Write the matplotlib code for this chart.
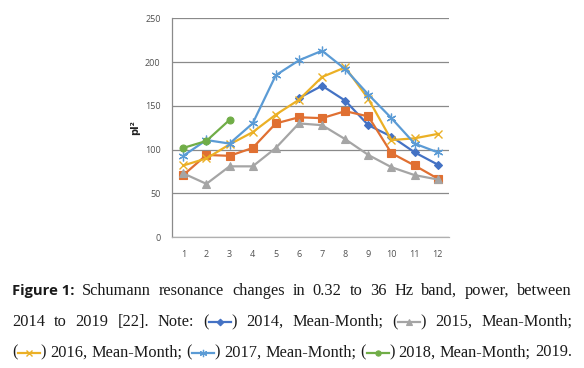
import numpy as np
import matplotlib
matplotlib.use("Agg")
import matplotlib.pyplot as plt
from matplotlib.transforms import IdentityTransform
from matplotlib.lines import Line2D

nan = np.nan
months = list(range(1, 13))
s2014 = [nan, nan, nan, nan, nan, 159, 173, 156, 128, 115, 97, 83]
s2019 = [71, 94, 93, 102, 130, 137, 136, 144, 138, 96, 82, 67]
s2015 = [73, 61, 81, 81, 102, 130, 128, 112, 94, 80, 71, 66]
s2016 = [82, 90, 106, 120, 140, 157, 183, 194, 158, 111, 113, 118]
s2017 = [93, 111, 107, 130, 185, 202, 213, 192, 163, 136, 107, 97]
s2018 = [102, 110, 134, nan, nan, nan, nan, nan, nan, nan, nan, nan]
yticks = [0, 50, 100, 150, 200, 250]

W, H = 584, 368
fig = plt.figure(figsize=(W / 100, H / 100), dpi=100)
L, R, T, B = 171.7, 449.3, 18.3, 237.3
ax = fig.add_axes([L / W, 1 - B / H, (R - L) / W, (B - T) / H])

styles = {
    "2014": dict(color="#4472C4", marker="D", ms=4.5, mew=0.8),
    "2019": dict(color="#E07032", marker="s", ms=5.5, mew=0.8),
    "2015": dict(color="#A5A5A5", marker="^", ms=5.5, mew=0.8),
    "2016": dict(color="#EBB025", marker="x", ms=6, mew=1.0),
    "2017": dict(color="#5B9BD5", marker=(6, 2, 0), ms=7, mew=0.9),
    "2018": dict(color="#70AD47", marker="o", ms=5, mew=0.8),
}
series = [("2014", s2014), ("2019", s2019), ("2015", s2015),
          ("2016", s2016), ("2017", s2017), ("2018", s2018)]
for i, (name, vals) in enumerate(series):
    st = styles[name]
    ax.plot(months, vals, color=st["color"], lw=1.6, marker=st["marker"],
            ms=st["ms"], mew=st["mew"], mfc=st["color"], mec=st["color"],
            zorder=3 + i)

ax.set_xlim(0.5, 12.5)
ax.set_ylim(0, 250)
ax.set_xticks(months)
ax.set_yticks(yticks)
ax.yaxis.grid(True, color="#8a8a8a", lw=0.9)
ax.set_axisbelow(True)
for s in ["top", "right"]:
    ax.spines[s].set_visible(False)
ax.spines["left"].set_color("#8a8a8a")
ax.spines["left"].set_linewidth(0.9)
ax.spines["bottom"].set_color("#b0b0b0")
ax.spines["bottom"].set_linewidth(0.9)
ax.tick_params(length=0, labelsize=6.5, labelcolor="#505050")
for lab in ax.get_xticklabels() + ax.get_yticklabels():
    lab.set_fontfamily("Open Sans")
ax.tick_params(axis="y", pad=8)
ax.tick_params(axis="x", pad=9)
fig.text(135 / W, 1 - 128 / H, "pI²", rotation=90, ha="center", va="center",
         fontsize=7, fontweight="bold", family="DejaVu Sans", color="#222222")

# ---- caption with justified lines ----
serif = dict(family="Liberation Serif", fontsize=11.8, color="#1a1a1a")
bold = dict(family="Open Sans", fontsize=10.6, fontweight="bold", color="#1a1a1a")
sym_colors = {"2014": "#4472C4", "2015": "#A5A5A5", "2016": "#EBB025",
              "2017": "#5B9BD5", "2018": "#70AD47"}

lines = [
    [("t", "Figure 1:", bold)] + [("t", w, serif) for w in
        "Schumann resonance changes in 0.32 to 36 Hz band, power, between".split()],
    [("t", w, serif) for w in "2014 to 2019 [22]. Note:".split()]
    + [("s", "2014"), ("t", "2014,", serif), ("t", "Mean-Month;", serif),
       ("s", "2015"), ("t", "2015,", serif), ("t", "Mean-Month;", serif)],
    [("s", "2016"), ("t", "2016,", serif), ("t", "Mean-Month;", serif),
     ("s", "2017"), ("t", "2017,", serif), ("t", "Mean-Month;", serif),
     ("s", "2018"), ("t", "2018,", serif), ("t", "Mean-Month;", serif),
     ("t", "2019.", serif)],
]
baselines = [295, 326, 356.5]
X0, X1 = 12, 572
GAP = 23
renderer = fig.canvas.get_renderer()
ident = IdentityTransform()

for toks, yb in zip(lines, baselines):
    ypix = H - yb
    items = []
    for tok in toks:
        if tok[0] == "t":
            t = fig.text(0, ypix, tok[1], transform=ident, ha="left",
                         va="baseline", **tok[2])
            w = t.get_window_extent(renderer).width
            items.append(("t", t, w))
        else:
            t1 = fig.text(0, ypix, "(", transform=ident, ha="left",
                          va="baseline", **serif)
            t2 = fig.text(0, ypix, ")", transform=ident, ha="left",
                          va="baseline", **serif)
            w1 = t1.get_window_extent(renderer).width
            w2 = t2.get_window_extent(renderer).width
            items.append(("s", (t1, t2, tok[1], w1, w2), w1 + GAP + w2))
    total = sum(it[2] for it in items)
    gap = max((X1 - X0 - total) / (len(items) - 1), 2.5)
    x = X0
    for kind, obj, w in items:
        if kind == "t":
            obj.set_x(x)
        else:
            t1, t2, name, w1, w2 = obj
            t1.set_x(x)
            t2.set_x(x + w1 + GAP)
            ym = ypix + 4.0
            xa, xb = x + w1 + 0.5, x + w1 + GAP - 0.5
            st = styles[name]
            fig.add_artist(Line2D([xa, xb], [ym, ym], transform=ident,
                                  color=sym_colors[name], lw=1.6))
            fig.add_artist(Line2D([(xa + xb) / 2], [ym], transform=ident,
                                  color=sym_colors[name], lw=0,
                                  marker=st["marker"], ms=st["ms"] * 0.75,
                                  mew=st["mew"], mfc=sym_colors[name],
                                  mec=sym_colors[name]))
        x += w + gap

fig.savefig("out.png", dpi=100)
